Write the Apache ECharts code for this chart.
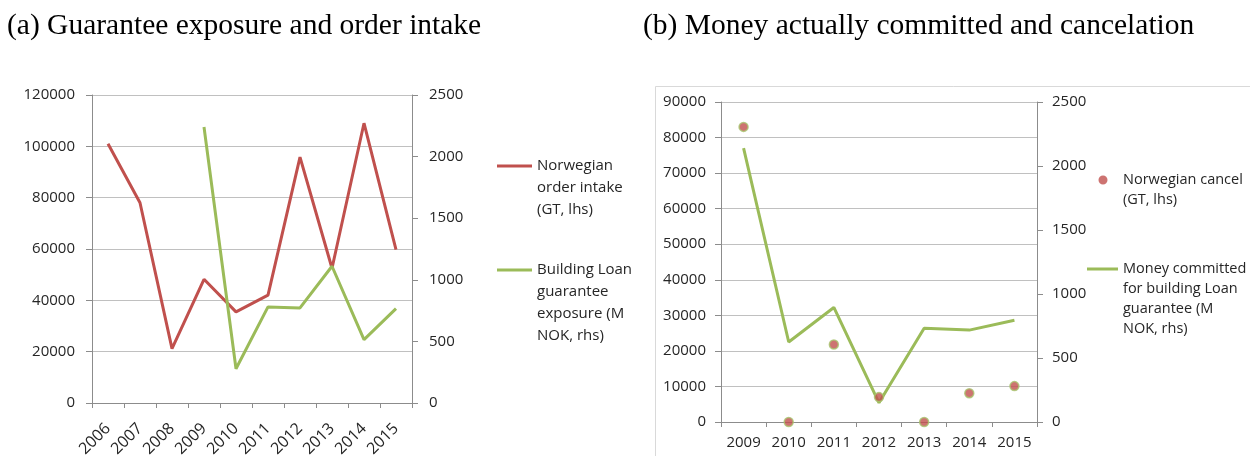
<!DOCTYPE html>
<html>
<head>
<meta charset="utf-8">
<script src="https://cdn.jsdelivr.net/npm/echarts@6/dist/echarts.min.js"></script>
<style>
  html, body { margin: 0; padding: 0; background: #fff; }
  #chart { width: 1250px; height: 456px; }
</style>
</head>
<body>
<div id="chart"></div>
<script>
// panel (a)
var yearsA = ['2006', '2007', '2008', '2009', '2010', '2011', '2012', '2013', '2014', '2015'];
var orderIntake = [101000, 78000, 21200, 48200, 35500, 42000, 95800, 52500, 109000, 59800];
var loanExposure = [null, null, null, 2240, 278, 780, 772, 1110, 515, 766];

// panel (b)
var yearsB = ['2009', '2010', '2011', '2012', '2013', '2014', '2015'];
var cancelGT = [83000, 0, 21800, 7000, 0, 8100, 10100];
var moneyCommitted = [2140, 625, 895, 150, 732, 718, 795];

var RED = '#c0504d';
var GREEN = '#9bbb59';
var AXIS = '#8c8c8c';
var GRIDC = '#c0c0c0';
var TXT = '#262626';
var FONT = '"Open Sans", sans-serif';

function plain(v) {
	return String(v);
}

function catAxis(gridIndex, data, rotate, margin, size) {
	return {
		type : 'category',
		gridIndex : gridIndex,
		data : data,
		boundaryGap : true,
		axisLine : { show : true, lineStyle : { color : AXIS, width : 1 } },
		axisTick : { show : true, length : 5, lineStyle : { color : AXIS } },
		axisLabel : { color : TXT, fontFamily : FONT, fontSize : size, rotate : rotate, margin : margin, interval : 0 },
		splitLine : { show : false }
	};
}

function valAxis(gridIndex, pos, max, interval, split, margin) {
	return {
		type : 'value',
		gridIndex : gridIndex,
		position : pos,
		min : 0,
		max : max,
		interval : interval,
		axisLine : { show : true, lineStyle : { color : AXIS, width : 1 } },
		axisTick : { show : true, length : 6, lineStyle : { color : AXIS } },
		axisLabel : { color : TXT, fontFamily : FONT, fontSize : 15, margin : margin, formatter : plain },
		splitLine : { show : split, lineStyle : { color : GRIDC, width : 1 } }
	};
}

// icon paths: the visible mark sits on the first text line,
// a hair-thin dot at the bottom stretches the icon box so the text lines up
function barIcon(w, h) {
	return 'path://M0,0L' + w + ',0L' + w + ',3L0,3Z' +
		'M0,' + (h - 0.02) + 'L0.02,' + (h - 0.02) + 'L0.02,' + h + 'L0,' + h + 'Z';
}

function dotIcon(w, h, cx, r) {
	return 'path://M' + (cx - r) + ',' + r + 'A' + r + ',' + r + ',0,1,0,' + (cx + r) + ',' + r +
		'A' + r + ',' + r + ',0,1,0,' + (cx - r) + ',' + r + 'Z' +
		'M0,' + (h - 0.02) + 'L0.02,' + (h - 0.02) + 'L0.02,' + h + 'L0,' + h + 'Z' +
		'M' + (w - 0.02) + ',' + (h - 0.02) + 'L' + w + ',' + (h - 0.02) + 'L' + w + ',' + h + 'L' + (w - 0.02) + ',' + h + 'Z';
}

function legendBox(left, top, name, lines, lh, fontSize, iconW, markH, icon) {
	var h = (lines.length - 1) * lh + markH;
	return {
		left : left,
		top : top,
		padding : 0,
		orient : 'vertical',
		selectedMode : false,
		itemWidth : iconW,
		itemHeight : h,
		icon : icon(iconW, h),
		itemStyle : { borderWidth : 0 },
		data : [ name ],
		formatter : function() { return lines.join('\n'); },
		textStyle : { color : TXT, fontFamily : FONT, fontSize : fontSize, lineHeight : lh }
	};
}

var chart = echarts.init(document.getElementById('chart'), null, { renderer : 'canvas' });

chart.setOption({
	animation : false,
	backgroundColor : '#fff',
	title : [ {
		text : '(a) Guarantee exposure and order intake',
		left : 7,
		top : 11,
		padding : 0,
		textStyle : { fontFamily : '"Liberation Serif", serif', fontSize : 29.5, fontWeight : 'normal', color : '#000' }
	}, {
		text : '(b) Money actually committed and cancelation',
		left : 643,
		top : 11,
		padding : 0,
		textStyle : { fontFamily : '"Liberation Serif", serif', fontSize : 29.5, fontWeight : 'normal', color : '#000' }
	} ],
	graphic : [ {
		type : 'rect',
		left : 653,
		top : 84,
		shape : { width : 700, height : 500 },
		style : { fill : 'none', stroke : '#d9d9d9', lineWidth : 1 },
		z : -1
	} ],
	legend : [
		legendBox(497, 155, 'Norwegian order intake (GT, lhs)', [ 'Norwegian', 'order intake', '(GT, lhs)' ], 22, 15, 35, 3, barIcon),
		legendBox(497, 259, 'Building Loan guarantee exposure (M NOK, rhs)', [ 'Building Loan', 'guarantee', 'exposure (M', 'NOK, rhs)' ], 22, 15, 35, 3, barIcon),
		legendBox(1093, 170, 'Norwegian cancel (GT, lhs)', [ 'Norwegian cancel', '(GT, lhs)' ], 20, 14.5, 25, 9, function(w, h) { return dotIcon(w, h, 10, 4.5); }),
		legendBox(1087, 259, 'Money committed for building Loan guarantee (M NOK, rhs)', [ 'Money committed', 'for building Loan', 'guarantee (M', 'NOK, rhs)' ], 20, 14.5, 31, 3, barIcon)
	],
	grid : [
		{ left : 92, top : 95, width : 320, height : 308, outerBoundsMode : 'none' },
		{ left : 721, top : 102, width : 316, height : 320, outerBoundsMode : 'none' }
	],
	xAxis : [
		catAxis(0, yearsA, 45, 23, 16),
		catAxis(1, yearsB, 0, 13, 15)
	],
	yAxis : [
		valAxis(0, 'left', 120000, 20000, true, 17),
		valAxis(0, 'right', 2500, 500, false, 17),
		valAxis(1, 'left', 90000, 10000, true, 15),
		valAxis(1, 'right', 2500, 500, false, 15)
	],
	series : [ {
		name : 'Norwegian order intake (GT, lhs)',
		type : 'line',
		xAxisIndex : 0,
		yAxisIndex : 0,
		data : orderIntake,
		symbol : 'none',
		lineStyle : { color : RED, width : 3 },
		itemStyle : { color : RED }
	}, {
		name : 'Building Loan guarantee exposure (M NOK, rhs)',
		type : 'line',
		xAxisIndex : 0,
		yAxisIndex : 1,
		data : loanExposure,
		symbol : 'none',
		lineStyle : { color : GREEN, width : 3 },
		itemStyle : { color : GREEN }
	}, {
		name : 'Norwegian cancel (GT, lhs)',
		type : 'scatter',
		xAxisIndex : 1,
		yAxisIndex : 2,
		data : cancelGT,
		symbol : 'circle',
		symbolSize : 9,
		itemStyle : { color : RED, borderColor : '#a8c46e', borderWidth : 1.5 },
		z : 3
	}, {
		name : 'Money committed for building Loan guarantee (M NOK, rhs)',
		type : 'line',
		xAxisIndex : 1,
		yAxisIndex : 3,
		data : moneyCommitted,
		symbol : 'none',
		lineStyle : { color : GREEN, width : 3 },
		itemStyle : { color : GREEN },
		z : 2
	} ]
});
</script>
</body>
</html>
